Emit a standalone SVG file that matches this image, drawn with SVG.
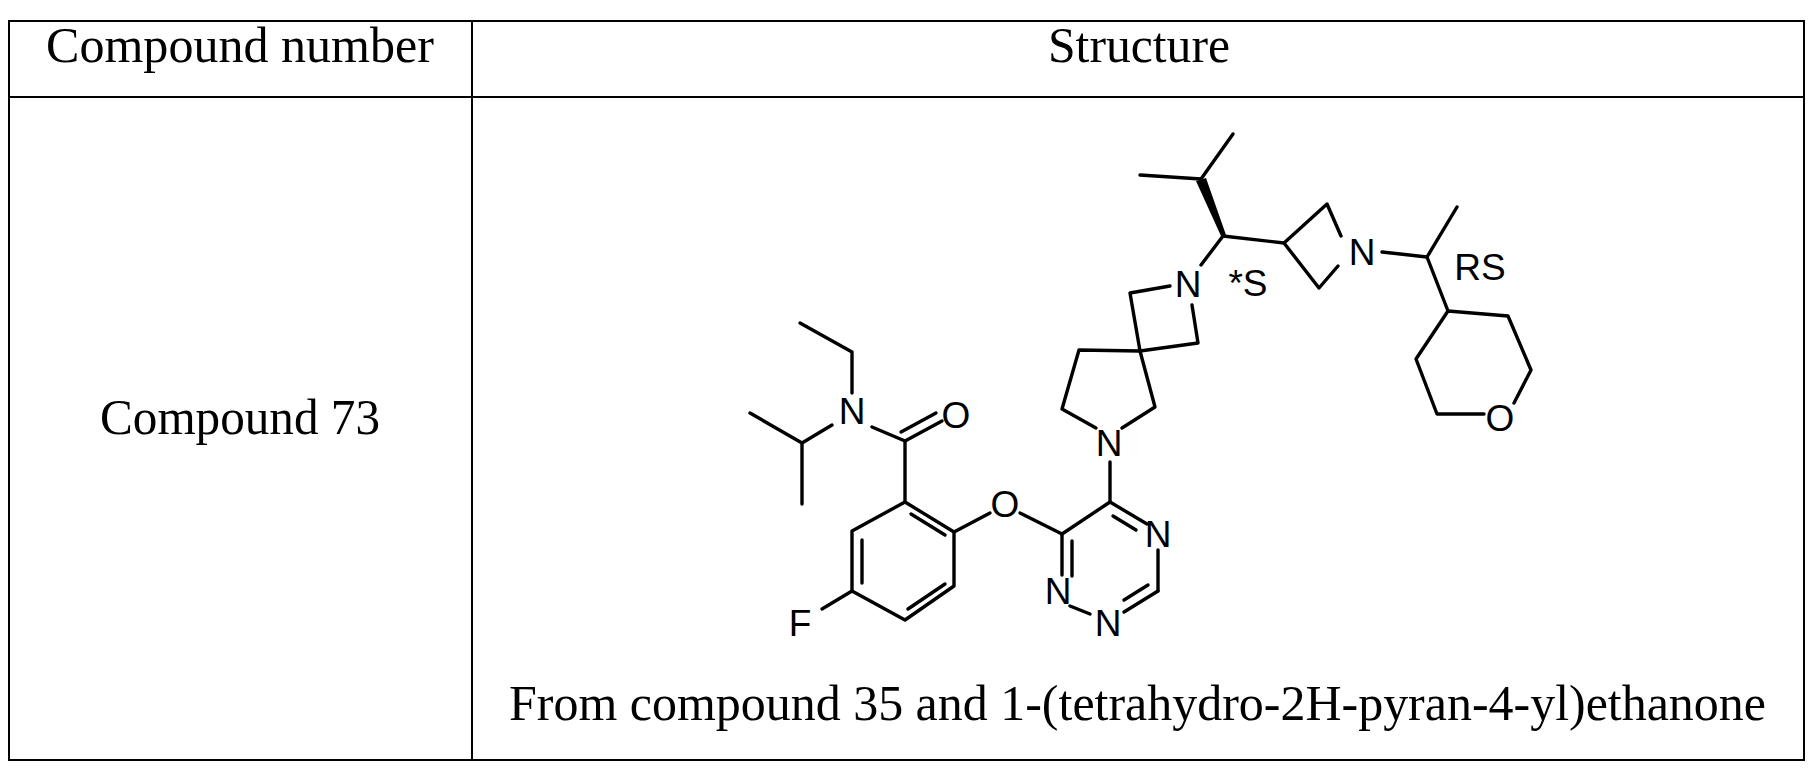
<svg xmlns="http://www.w3.org/2000/svg" width="1813" height="771" viewBox="0 0 1813 771">
<style>
.t{font-family:"Liberation Serif",serif;font-size:50px;fill:#000}
.a{font-family:"Liberation Sans",sans-serif;font-size:37px;fill:#000;text-anchor:middle}
.b{stroke:#000;stroke-width:3.4;fill:none;stroke-linecap:round;stroke-linejoin:round}
.g{stroke:#000;stroke-width:2;fill:none}
</style>
<rect width="1813" height="771" fill="#fff"/>
<g id="table">
<rect class="g" x="9" y="21" width="1795" height="739"/>
<line class="g" x1="472" y1="21" x2="472" y2="760"/>
<line class="g" x1="9" y1="97" x2="1804" y2="97"/>
<text class="t" x="46" y="62" textLength="388" lengthAdjust="spacingAndGlyphs">Compound number</text>
<text class="t" x="1048" y="62" textLength="182" lengthAdjust="spacingAndGlyphs">Structure</text>
<text class="t" x="100" y="434" textLength="280" lengthAdjust="spacingAndGlyphs">Compound 73</text>
<text class="t" x="509" y="720" textLength="1257" lengthAdjust="spacingAndGlyphs">From compound 35 and 1-(tetrahydro-2H-pyran-4-yl)ethanone</text>
</g>
<g id="molecule">
<g id="bonds" class="b">
<polyline points="905,502 954,532 954,586 905,620 852,591 852,531 905,502"/>
<line x1="911" y1="514" x2="945" y2="535"/>
<line x1="945" y1="584" x2="908" y2="609"/>
<line x1="862" y1="540" x2="862" y2="583"/>
<line x1="852" y1="591" x2="822" y2="609"/>
<line x1="905" y1="502" x2="905" y2="441"/>
<line x1="905" y1="441" x2="942" y2="421"/>
<line x1="901" y1="432" x2="936" y2="413"/>
<line x1="905" y1="441" x2="872" y2="427"/>
<polyline points="852,393 852,352 800,323"/>
<polyline points="832,425 802,443 750,413"/>
<line x1="802" y1="443" x2="802" y2="504"/>
<line x1="954" y1="532" x2="990" y2="513"/>
<line x1="1020" y1="513" x2="1062" y2="534"/>
<line x1="1062" y1="534" x2="1110" y2="502"/>
<line x1="1110" y1="502" x2="1147" y2="524"/>
<line x1="1113" y1="516" x2="1136" y2="530"/>
<line x1="1158" y1="550" x2="1158" y2="591"/>
<line x1="1158" y1="591" x2="1124" y2="612"/>
<line x1="1148" y1="585" x2="1124" y2="600"/>
<line x1="1062" y1="534" x2="1062" y2="575"/>
<line x1="1072" y1="541" x2="1072" y2="576"/>
<line x1="1070" y1="606" x2="1090" y2="614"/>
<line x1="1110" y1="502" x2="1110" y2="462"/>
<polyline points="1096,428 1062,409 1079,350 1140,351 1155,407 1122,428"/>
<polyline points="1140,351 1198,343 1192,305"/>
<polyline points="1170,286 1130,293 1140,351"/>
<line x1="1201" y1="265" x2="1223" y2="236"/>
<line x1="1201" y1="179" x2="1140" y2="175"/>
<line x1="1201" y1="179" x2="1233" y2="134"/>
<line x1="1223" y1="236" x2="1284" y2="243"/>
<polyline points="1338,266 1319,288 1284,243 1327,204 1341,236"/>
<line x1="1382" y1="252" x2="1427" y2="257"/>
<line x1="1427" y1="257" x2="1457" y2="207"/>
<line x1="1427" y1="257" x2="1448" y2="311"/>
<polyline points="1484,414 1437,414 1416,359 1448,311 1508,316 1531,370 1514,403"/>
</g>
<polygon points="1221,236 1226,235 1206,178 1196,181" fill="#000"/>
<g id="labels">
<text class="a" x="956" y="428">O</text>
<text class="a" x="852" y="424">N</text>
<text class="a" x="800" y="636">F</text>
<text class="a" x="1005" y="517">O</text>
<text class="a" x="1158" y="547">N</text>
<text class="a" x="1108" y="636">N</text>
<text class="a" x="1058" y="604">N</text>
<text class="a" x="1109" y="456">N</text>
<text class="a" x="1188" y="297">N</text>
<text class="a" x="1362" y="265">N</text>
<text class="a" x="1500" y="431">O</text>
<text class="a" x="1248" y="296">*S</text>
<text class="a" x="1480" y="280">RS</text>
</g>
</g>
</svg>
